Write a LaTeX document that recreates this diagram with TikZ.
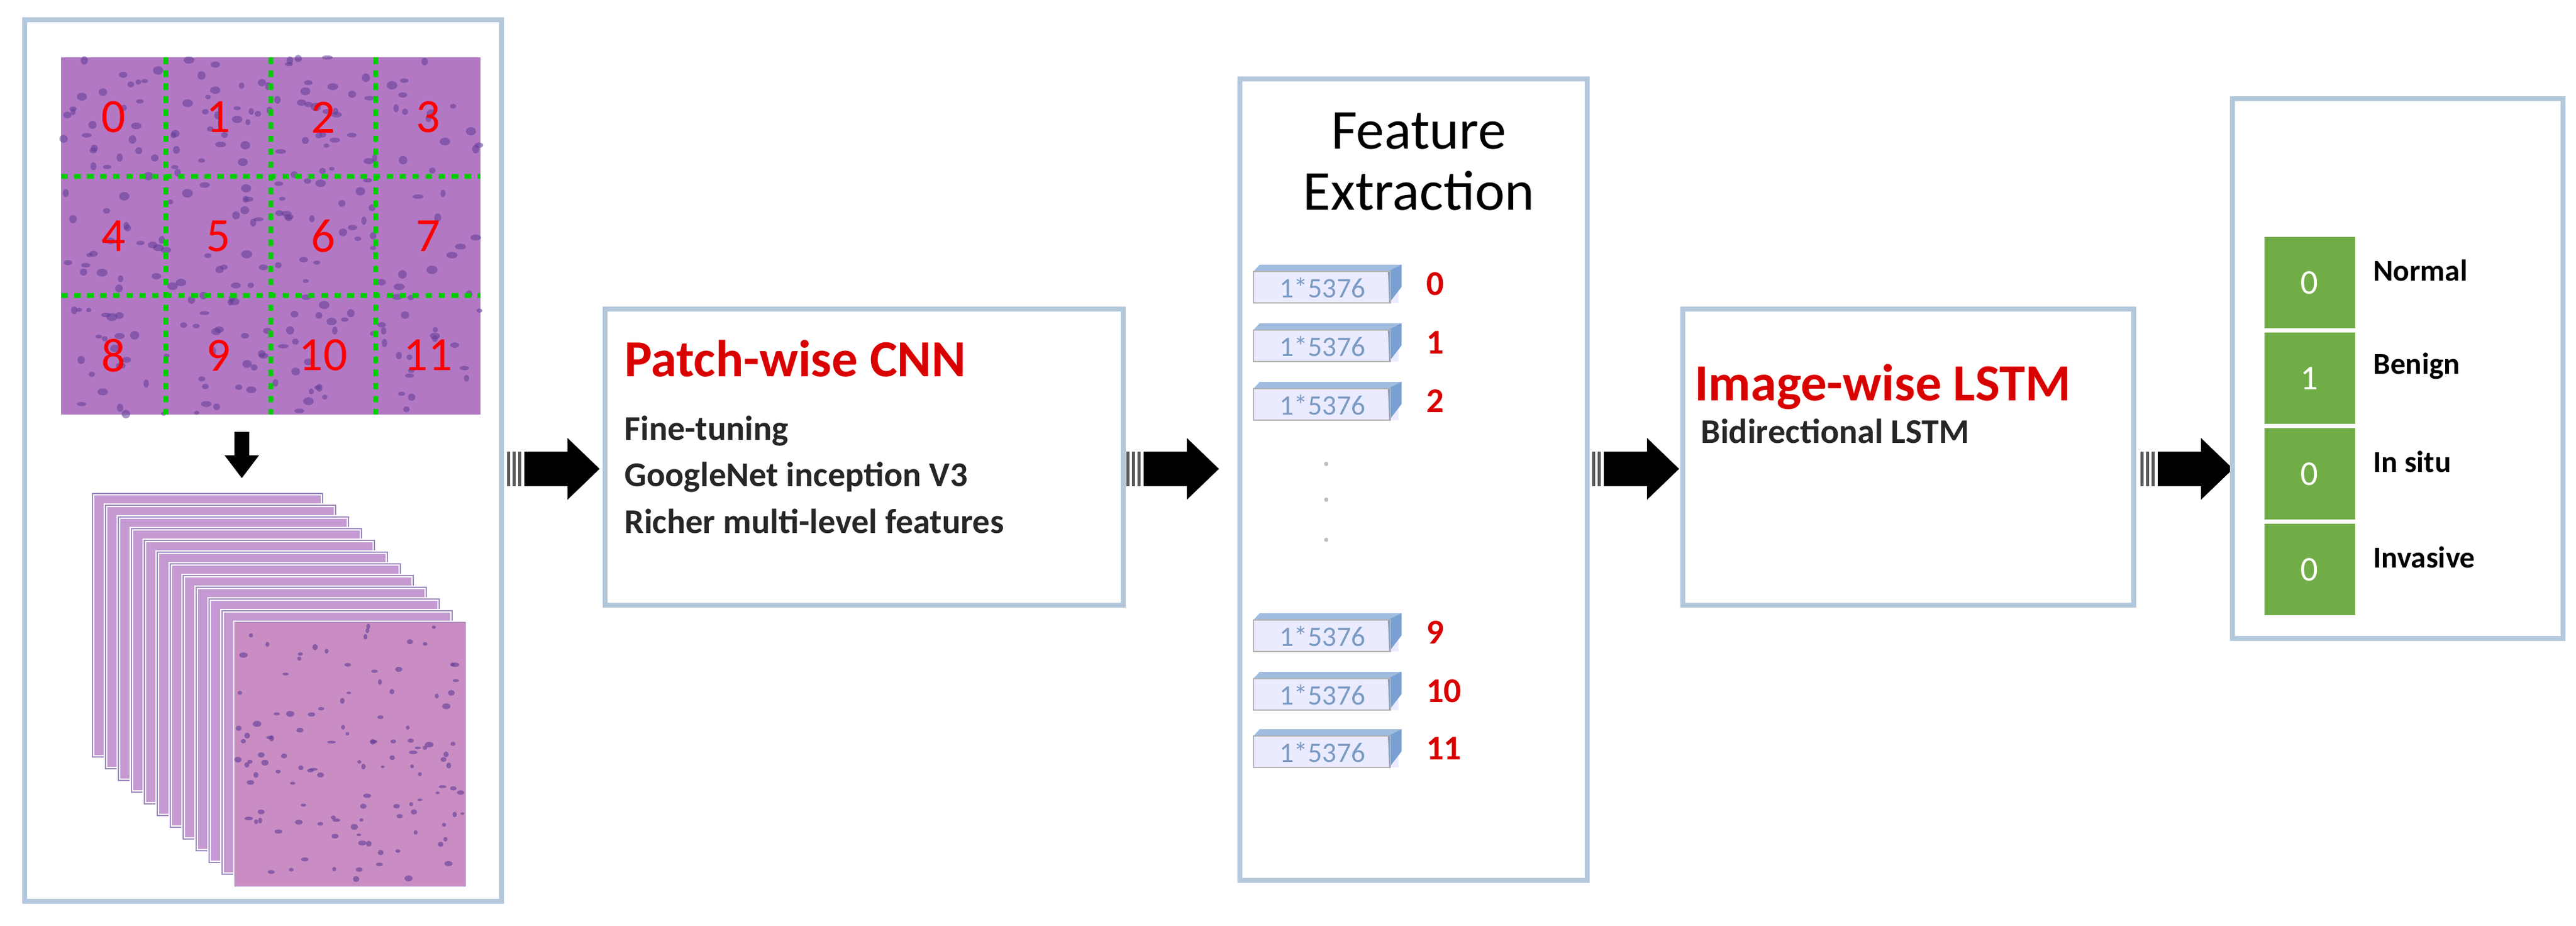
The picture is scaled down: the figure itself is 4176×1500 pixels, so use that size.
\documentclass[tikz,border=0pt]{standalone}
\usepackage{fontspec}
\setmainfont{Carlito}
\definecolor{tissue}{RGB}{178,120,196}
\definecolor{nuclei}{RGB}{95,60,150}
\definecolor{cellgreen}{RGB}{112,173,71}
\definecolor{boxline}{RGB}{180,200,220}
\definecolor{barblue}{RGB}{120,160,210}
\tikzset{
  panel/.style={draw=boxline, line width=2.5pt, fill=white},
  gridnum/.style={text=red, font=\fontsize{22}{22}\selectfont},
  title/.style={text=red!85!black, font=\bfseries\fontsize{24}{24}\selectfont, anchor=west},
  info/.style={font=\bfseries\fontsize{16}{16}\selectfont, anchor=west, text=black!85},
  barnum/.style={text=red!85!black, font=\bfseries\fontsize{16}{16}\selectfont, anchor=west},
  cell/.style={fill=cellgreen, draw=white, line width=2pt, minimum width=1.54cm,
    minimum height=1.54cm, text=white, font=\fontsize{16}{16}\selectfont},
  cls/.style={font=\bfseries\fontsize{14}{14}\selectfont, anchor=west},
}
\newcommand{\featbar}[3]{% name, y, index
  \begin{scope}[shift={(2032,#2)}]
    \fill[blue!8] (0,-20) rectangle (235,31);
    \fill[barblue!70] (10,-31) -- (240,-31) -- (240,-20) -- (0,-20) -- cycle;
    \fill[barblue] (218,-20) -- (240,-31) -- (240,5) -- (220,31) -- cycle;
    \draw[gray!60, line width=0.6pt] (0,-20) rectangle (222,31);
    \node[text=barblue!80!gray, font=\fontsize{13}{13}\selectfont] (#1) at (112,6) {1*5376};
  \end{scope}
  \node[barnum] (n#1) at (2300,#2) {#3};
}
% striped block arrow: name, tail x, y
\newcommand{\stagearrow}[3]{%
  \coordinate (#1) at (#2,#3);
  \fill[black] (#2+28,#3-28) -- (#2+98,#3-28) -- (#2+98,#3-50) -- (#2+150,#3)
    -- (#2+98,#3+50) -- (#2+98,#3+28) -- (#2+28,#3+28) -- cycle;
  \foreach \t in {0,9,18} \fill[black!65] (#2+\t,#3-28) rectangle ++(5,56);
}
\begin{document}
\begin{tikzpicture}[x=0.01cm, y=-0.01cm]
\useasboundingbox[fill=white] (0,0) rectangle (4176,1500);

% input panel
\draw[panel] (40,32) rectangle (813,1461);
\fill[tissue] (99,93) rectangle (779,672);
\pgfmathsetseed{7}
\foreach \i in {1,...,260} {
  \fill[nuclei, opacity=0.55] (99+680*rnd, 93+579*rnd) ellipse ({4+5*rnd} and {3+4*rnd});
}
\draw[green!80!black, line width=2pt, dashed] (99,286) -- (779,286) (99,479) -- (779,479)
  (269,93) -- (269,672) (439,93) -- (439,672) (609,93) -- (609,672);
\foreach \n [count=\k from 0] in {0,...,11} {
  \pgfmathtruncatemacro{\c}{mod(\k,4)}
  \pgfmathtruncatemacro{\r}{div(\k,4)}
  \node[gridnum] (g\n) at (184+170*\c, 190+193*\r) {\n};
}
\coordinate (down) at (392,738);
\fill[black] (380,700) -- (404,700) -- (404,738) -- (420,738) -- (392,775) -- (364,738)
  -- (380,738) -- cycle;

% stack of patches
\foreach \s in {0,...,11} {
  \fill[tissue!75, draw=white, line width=1.5pt] (150+21*\s,800+19*\s) rectangle ++(373,427);
  \draw[nuclei!60, line width=0.5pt] (150+21*\s,800+19*\s) rectangle ++(373,427);
}
\fill[tissue!70!pink] (381,1009) rectangle ++(373,427);
\pgfmathsetseed{3}
\foreach \i in {1,...,120} {
  \fill[nuclei, opacity=0.6] (385+365*rnd, 1013+420*rnd) ellipse ({3+4*rnd} and {2+3*rnd});
}

% arrows between stages
\stagearrow{a1}{822}{760}
\stagearrow{a2}{1826}{760}
\stagearrow{a3}{2572}{760}
\stagearrow{a4}{3470}{760}

% patch-wise CNN
\draw[panel] (981,501) rectangle (1821,981);
\node[title] (cnn) at (1000,581) {Patch-wise CNN};
\node[info] (ft) at (1000,699) {Fine-tuning};
\node[info] (gn) at (1000,773) {GoogleNet inception V3};
\node[info] (rm) at (1000,845) {Richer multi-level features};

% feature extraction
\draw[panel] (2010,128) rectangle (2573,1427);
\node[font=\fontsize{26}{26}\selectfont, align=center] (fe) at (2300,262) {Feature\\[2pt]Extraction};
\foreach \nm/\y/\n in {b0/460/0, b1/555/1, b2/650/2, b9/1025/9, b10/1120/10, b11/1213/11}
  \featbar{\nm}{\y}{\n};
\foreach \y in {752,810,875} \fill[gray!50] (2150,\y) circle (3.5);

% image-wise LSTM
\draw[panel] (2728,501) rectangle (3459,981);
\node[title] (lstm) at (2735,627) {Image-wise LSTM};
\node[info] (bd) at (2745,699) {Bidirectional LSTM};

% output
\draw[panel] (3619,160) rectangle (4155,1035);
\foreach \nm/\v/\lab [count=\k from 0] in {c0/0/Normal, c1/1/Benign, c2/0/In situ, c3/0/Invasive} {
  \node[cell] (\nm) at (3744,458+155*\k) {\v};
  \node[cls] (l\nm) at (3835,438+155*\k) {\lab};
}
\end{tikzpicture}
\end{document}
